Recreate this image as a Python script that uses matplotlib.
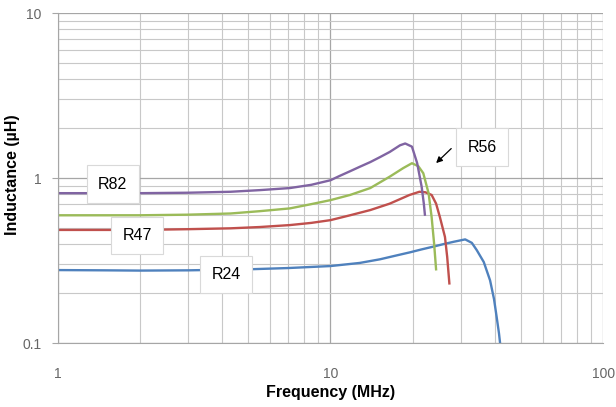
import matplotlib
matplotlib.use("Agg")
import matplotlib.pyplot as plt
from matplotlib.ticker import LogLocator, NullFormatter, FixedLocator, FixedFormatter

# Inductance vs frequency for four parts, read in MHz / uH
freqR82 = [1, 1.5, 2, 3, 4.3, 5.5, 7.1, 8.5, 10, 10.8, 11.8, 12.8, 14, 15.2, 16.5, 18, 18.8, 19.9, 20.8, 21.6, 22.0, 22.2]
indR82 = [0.81, 0.81, 0.81, 0.815, 0.826, 0.845, 0.87, 0.91, 0.97, 1.03, 1.1, 1.17, 1.25, 1.34, 1.44, 1.58, 1.62, 1.55, 1.23, 0.886, 0.7, 0.6]

freqR56 = [1, 1.5, 2, 3, 4.3, 5.5, 7.1, 8.5, 10, 11.8, 14, 16.5, 18.5, 19.9, 21.0, 21.9, 22.9, 23.5, 24.0, 24.4]
indR56 = [0.595, 0.595, 0.595, 0.6, 0.61, 0.63, 0.655, 0.695, 0.735, 0.79, 0.87, 1.02, 1.15, 1.23, 1.18, 1.07, 0.81, 0.58, 0.4, 0.28]

freqR47 = [1, 1.5, 2, 3, 4.3, 5.5, 7.1, 8.5, 10, 11.8, 14, 16.5, 19.5, 21.2, 22.3, 23.5, 24.4, 25.2, 26.3, 26.8, 27.3]
indR47 = [0.485, 0.485, 0.485, 0.49, 0.496, 0.505, 0.519, 0.535, 0.556, 0.595, 0.64, 0.7, 0.79, 0.826, 0.82, 0.79, 0.7, 0.58, 0.44, 0.333, 0.23]

freqR24 = [1, 1.5, 2, 3, 5, 7, 10, 12.8, 15.2, 17.5, 19.6, 21.5, 23.8, 26, 28.3, 31.2, 33, 34.4, 36.5, 38.5, 39.8, 40.7, 41.5, 41.9]
indR24 = [0.277, 0.276, 0.275, 0.276, 0.28, 0.285, 0.293, 0.306, 0.322, 0.34, 0.355, 0.369, 0.384, 0.398, 0.411, 0.425, 0.405, 0.366, 0.31, 0.24, 0.185, 0.144, 0.115, 0.1]

labelNames = ["R82", "R47", "R24", "R56"]
labelPos = [(1.59, 0.92), (1.95, 0.45), (4.14, 0.26), (36.0, 1.54)]

colors = {"R82": "#8064A2", "R56": "#9BBB59", "R47": "#C0504D", "R24": "#4F81BD"}

fig = plt.figure(figsize=(6.16, 4.07), dpi=100)
ax = fig.add_axes([0.094, 0.157, 0.885, 0.811])

ax.plot(freqR24, indR24, color=colors["R24"], lw=1.7)
ax.plot(freqR47, indR47, color=colors["R47"], lw=1.7)
ax.plot(freqR56, indR56, color=colors["R56"], lw=1.7)
ax.plot(freqR82, indR82, color=colors["R82"], lw=1.7)

ax.set_xscale("log")
ax.set_yscale("log")
ax.set_xlim(1, 100)
ax.set_ylim(0.1, 10)

ax.xaxis.set_major_locator(FixedLocator([1, 10, 100]))
ax.xaxis.set_major_formatter(FixedFormatter(["1", "10", "100"]))
ax.yaxis.set_major_locator(FixedLocator([0.1, 1, 10]))
ax.yaxis.set_major_formatter(FixedFormatter(["0.1", "1", "10"]))
ax.xaxis.set_minor_locator(LogLocator(base=10, subs=range(2, 10)))
ax.yaxis.set_minor_locator(LogLocator(base=10, subs=range(2, 10)))
ax.xaxis.set_minor_formatter(NullFormatter())
ax.yaxis.set_minor_formatter(NullFormatter())

ax.grid(True, which="major", color="#a6a6a6", lw=0.9)
ax.grid(True, which="minor", color="#c8c8c8", lw=0.8)
ax.set_axisbelow(True)

for side in ["top", "right"]:
    ax.spines[side].set_visible(False)
for side in ["left", "bottom"]:
    ax.spines[side].set_color("#a6a6a6")

ax.tick_params(axis="x", which="both", length=0, pad=17, labelsize=10, labelcolor="#666666")
ax.tick_params(axis="y", which="major", length=4, color="#a6a6a6", pad=8, labelsize=10, labelcolor="#666666")
ax.tick_params(axis="y", which="minor", length=0)

font = "Liberation Sans"
for lbl in ax.get_xticklabels() + ax.get_yticklabels():
    lbl.set_family(font)

ax.set_xlabel("Frequency (MHz)", fontsize=11.5, fontweight="bold", family=font, labelpad=3)
ax.set_ylabel("Inductance (\u00b5H)", fontsize=11.5, fontweight="bold", family=font)
ax.yaxis.set_label_coords(-0.07, 0.51)

box = dict(boxstyle="square,pad=0.7", facecolor="white", edgecolor="#d9d9d9", lw=0.8)
for name, (x, y) in zip(labelNames, labelPos):
    ax.text(x, y, name, fontsize=11.5, family=font, ha="center", va="center", bbox=box, zorder=5)

# arrow pointing from the R56 label toward its curve
ax.annotate("", xy=(24.0, 1.2), xytext=(28.2, 1.55),
            arrowprops=dict(arrowstyle="-|>", color="black", lw=0.9, mutation_scale=9), zorder=6)

fig.savefig("out.png", dpi=100)
